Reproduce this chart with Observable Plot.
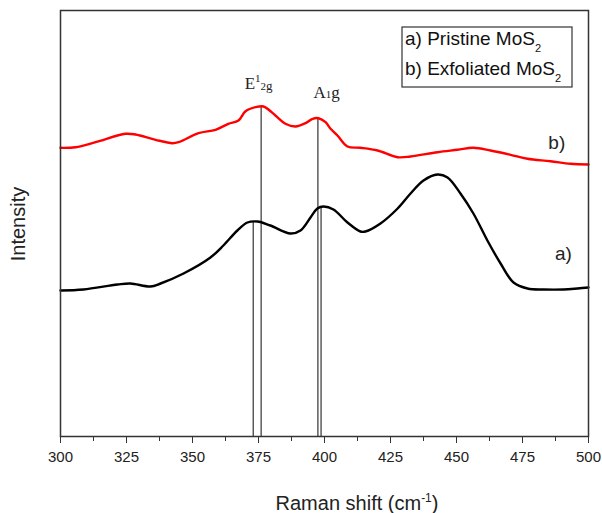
<!DOCTYPE html>
<html>
<head>
<meta charset="utf-8">
<script src="https://cdn.jsdelivr.net/npm/d3@7"></script>
<script src="https://cdn.jsdelivr.net/npm/@observablehq/plot@0.6"></script>
<style>
  html, body { margin: 0; padding: 0; background: #fff; }
</style>
</head>
<body>
<div id="chart"></div>
<script>
// Raman shift (cm^-1) and relative intensity (arbitrary units)
const shiftA = [300, 308.7, 321.6, 326.5, 334.1, 337.9, 346.6, 356.8, 361.7, 367.0, 370.8, 374.6, 379.5, 387.1, 390.9, 394.7, 397.3, 399.6, 403.4, 408.7, 413.6, 415.5, 421.2, 427.7, 432.6, 437.5, 442.8, 446.6, 451.5, 456.4, 461.7, 466.7, 471.6, 476.9, 483.0, 490.5, 495.8, 500];
const intensityA = [146, 147, 152, 153, 150, 153, 163, 179, 191, 206, 214, 215, 211, 203, 206, 219, 228, 230, 227, 214, 205, 205, 213, 228, 243, 256, 262, 259, 243, 223, 196, 173, 154, 148, 147, 147, 148, 149];

const shiftB = [300, 305.7, 313.3, 324.6, 328.4, 336.0, 342.4, 344.7, 352.3, 358.7, 363.6, 367.4, 370.1, 373.9, 376.9, 381.4, 385.2, 389.0, 392.8, 395.5, 397.7, 400.4, 402.3, 404.9, 408.7, 413.6, 420.1, 427.7, 432.6, 442.8, 450.4, 456.4, 462.9, 470.5, 476.9, 485.6, 493.2, 500];
const intensityB = [288.7, 289.3, 294.3, 302.7, 302, 296.7, 293.3, 294.3, 303.3, 306.7, 312.7, 316, 325.3, 329.3, 330, 321, 312.7, 310, 313.3, 317.7, 318.3, 314.3, 307.7, 301, 290, 288.7, 286, 279.3, 280, 284.3, 286.7, 288.7, 286, 281.7, 277.7, 275.3, 272.7, 272];

// Peak markers (vertical lines from baseline to the peak)
const peakShift = [373.0, 376.0, 397.5, 398.7];
const peakHeight = [215, 330, 318, 229];

const majorTicks = [300, 325, 350, 375, 400, 425, 450, 475, 500];
const minorTicks = [312.5, 337.5, 362.5, 387.5, 412.5, 437.5, 462.5, 487.5];

const curveLabels = ["a)", "b)"];
const curveLabelShift = [490.5, 488.0];
const curveLabelIntensity = [183, 294];

const seriesA = shiftA.map((x, i) => ({x, y: intensityA[i]}));
const seriesB = shiftB.map((x, i) => ({x, y: intensityB[i]}));
const peaks = peakShift.map((x, i) => ({x, h: peakHeight[i]}));
const labels = curveLabels.map((t, i) => ({t, x: curveLabelShift[i], y: curveLabelIntensity[i]}));

const sans = "'Liberation Sans', Arial, sans-serif";
const serif = "'Liberation Serif', 'Times New Roman', serif";

const chart = Plot.plot({
  width: 602,
  height: 513,
  marginTop: 10,
  marginRight: 14,
  marginBottom: 77,
  marginLeft: 60,
  style: {fontFamily: sans, fontSize: "15px", color: "#222", background: "#fff"},
  x: {domain: [300, 500], axis: null},
  y: {domain: [0, 426], axis: null},
  marks: [
    Plot.ruleX(peaks, {x: "x", y1: () => 0, y2: "h", stroke: "#333", strokeWidth: 1.2}),
    Plot.line(seriesB, {x: "x", y: "y", stroke: "#ff0000", strokeWidth: 2.4, curve: "catmull-rom"}),
    Plot.line(seriesA, {x: "x", y: "y", stroke: "#000", strokeWidth: 2.4, curve: "catmull-rom"}),
    Plot.text(labels, {x: "x", y: "y", text: "t", fontSize: 19, fill: "#222", fontFamily: sans}),
    Plot.frame({stroke: "#333", strokeWidth: 1.5}),
    Plot.axisX({ticks: majorTicks, tickSize: 7, tickPadding: 8, tickFormat: d => String(d), stroke: "#333", fontSize: 15, label: null}),
    Plot.axisX({ticks: minorTicks, tickSize: 5, tickFormat: () => "", stroke: "#333", label: null})
  ]
});

document.getElementById("chart").appendChild(chart);

const svg = d3.select(chart);
const xs = chart.scale("x");

// Axis titles
const xt = svg.append("text")
  .attr("x", 357).attr("y", 510).attr("text-anchor", "middle")
  .attr("fill", "#222").style("font-family", sans).style("font-size", "20px");
xt.append("tspan").text("Raman shift (cm");
xt.append("tspan").text("-1").attr("dy", -8).style("font-size", "12px");
xt.append("tspan").text(")").attr("dy", 8);

svg.append("text")
  .attr("transform", "translate(25,224) rotate(-90)")
  .attr("text-anchor", "middle")
  .attr("fill", "#222").style("font-family", sans).style("font-size", "20px")
  .text("Intensity");

// Peak labels
const e = svg.append("text")
  .attr("x", xs.apply(peakShift[0]) - 8).attr("y", 89).attr("text-anchor", "start")
  .attr("fill", "#222").style("font-family", serif).style("font-size", "17px");
e.append("tspan").text("E");
e.append("tspan").text("1").attr("dy", -7).style("font-size", "11px");
e.append("tspan").text("2").attr("dy", 8).style("font-size", "11px");
e.append("tspan").text("g").style("font-size", "13px");

const a = svg.append("text")
  .attr("x", xs.apply(peakShift[2]) - 4).attr("y", 98).attr("text-anchor", "start")
  .attr("fill", "#222").style("font-family", serif).style("font-size", "17px");
a.append("tspan").text("A");
a.append("tspan").text("1").style("font-size", "11px");
a.append("tspan").text("g");

// Legend box
const lg = svg.append("g");
lg.append("rect").attr("x", 402).attr("y", 27).attr("width", 170).attr("height", 60)
  .attr("fill", "#fff").attr("stroke", "#333").attr("stroke-width", 1.2);
const legendItems = ["a) Pristine MoS", "b) Exfoliated MoS"];
legendItems.forEach((t, i) => {
  const tx = lg.append("text").attr("x", 405).attr("y", 45 + i * 30).attr("text-anchor", "start")
    .attr("fill", "#111").style("font-family", sans).style("font-size", "19px");
  tx.append("tspan").text(t);
  tx.append("tspan").text("2").attr("dy", 7).style("font-size", "11px");
});
</script>
</body>
</html>
